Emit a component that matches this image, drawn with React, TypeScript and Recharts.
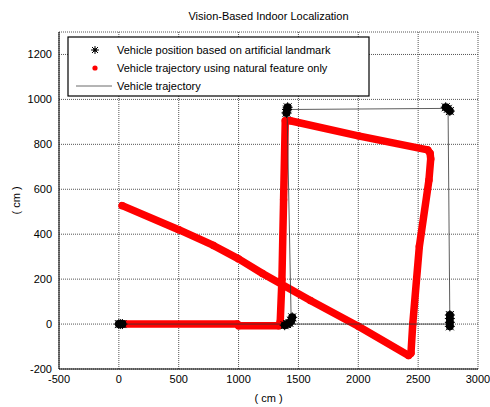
import React from 'react';
import { ScatterChart, Scatter, XAxis, YAxis, CartesianGrid } from 'recharts';

const xTicks = [-500, 0, 500, 1000, 1500, 2000, 2500, 3000];
const yTicks = [-200, 0, 200, 400, 600, 800, 1000, 1200];

const naturalFeaturePath = [
  { x: 20, y: 0 }, { x: 990, y: 0 }, { x: 1000, y: -8 }, { x: 1335, y: -8 },
  { x: 1348, y: 10 }, { x: 1362, y: 197 }, { x: 1376, y: 553 }, { x: 1390, y: 905 },
  { x: 1432, y: 905 }, { x: 2000, y: 838 }, { x: 2580, y: 775 }, { x: 2600, y: 760 },
  { x: 2605, y: 735 }, { x: 2590, y: 640 }, { x: 2510, y: 345 }, { x: 2455, y: 0 },
  { x: 2440, y: -130 }, { x: 2420, y: -140 }, { x: 2000, y: -10 }, { x: 1600, y: 105 },
  { x: 1200, y: 225 }, { x: 1000, y: 290 }, { x: 790, y: 350 }, { x: 500, y: 420 },
  { x: 28, y: 527 },
];

const vehicleTrajectory = [
  { x: 0, y: 0 }, { x: 1440, y: 0 }, { x: 1405, y: 955 }, { x: 2750, y: 960 },
  { x: 2765, y: 0 }, { x: 1450, y: 0 },
];

const landmarkPositions = [
  { x: 0, y: 0 }, { x: 15, y: 0 }, { x: 30, y: 0 },
  { x: 1385, y: -5 }, { x: 1405, y: 0 }, { x: 1425, y: 5 }, { x: 1440, y: 15 }, { x: 1448, y: 30 },
  { x: 1400, y: 940 }, { x: 1405, y: 955 }, { x: 1410, y: 965 },
  { x: 2730, y: 965 }, { x: 2748, y: 958 }, { x: 2765, y: 948 },
  { x: 2765, y: -10 }, { x: 2765, y: 8 }, { x: 2765, y: 25 }, { x: 2765, y: 40 },
];

const FONT = '"Liberation Sans", Arial, Helvetica, sans-serif';

const Star = ({ cx, cy, r = 4 }: { cx: number; cy: number; r?: number }) => (
  <g>
    <circle cx={cx} cy={cy} r={r} fill="#000" />
    <line x1={cx - r - 1} y1={cy} x2={cx + r + 1} y2={cy} stroke="#000" strokeWidth={1} />
    <line x1={cx} y1={cy - r - 1} x2={cx} y2={cy + r + 1} stroke="#000" strokeWidth={1} />
    <line x1={cx - r} y1={cy - r} x2={cx + r} y2={cy + r} stroke="#000" strokeWidth={1} />
    <line x1={cx - r} y1={cy + r} x2={cx + r} y2={cy - r} stroke="#000" strokeWidth={1} />
  </g>
);

const LegendBox = () => (
  <svg width={303} height={61} style={{ position: 'absolute', left: 67, top: 36, fontFamily: FONT }}>
    <rect x={1} y={1} width={301} height={59} fill="#fff" stroke="#000" strokeWidth={1.2} />
    <g>
      <line x1={24} y1={14} x2={32} y2={14} stroke="#000" />
      <line x1={28} y1={10} x2={28} y2={18} stroke="#000" />
      <line x1={25} y1={11} x2={31} y2={17} stroke="#000" />
      <line x1={25} y1={17} x2={31} y2={11} stroke="#000" />
      <circle cx={28} cy={14} r={1.8} fill="#000" />
    </g>
    <text x={50} y={18} fontSize={11} fill="#000">Vehicle position based on artificial landmark</text>
    <circle cx={28} cy={32} r={2.6} fill="#ff0000" />
    <text x={50} y={36} fontSize={11} fill="#000">Vehicle trajectory using natural feature only</text>
    <line x1={9} y1={50} x2={45} y2={50} stroke="#444" strokeWidth={0.8} />
    <text x={50} y={54} fontSize={11} fill="#000">Vehicle trajectory</text>
  </svg>
);

export default function App() {
  return (
    <div style={{ position: 'relative', width: 490, height: 407, background: '#fff', fontFamily: FONT }}>
      <style>{'body{margin:0}'}</style>
      <ScatterChart width={490} height={407} margin={{ top: 32, right: 12, bottom: 0, left: 0 }}>
        <CartesianGrid stroke="#555" strokeDasharray="1 1" strokeWidth={1} />
        <XAxis
          type="number"
          dataKey="x"
          domain={[-500, 3000]}
          ticks={xTicks}
          allowDataOverflow
          height={38}
          tickLine={false}
          tickSize={0}
          tickMargin={6}
          axisLine={{ stroke: '#000', strokeWidth: 1 }}
          tick={{ fill: '#000', fontSize: 11, fontFamily: FONT }}
          label={(props: any) => {
            const vb = props.viewBox || {};
            return (
              <text x={vb.x + vb.width / 2} y={vb.y + 33} textAnchor="middle" fontSize={11} fill="#000" fontFamily={FONT}>
                ( cm )
              </text>
            );
          }}
        />
        <YAxis
          type="number"
          dataKey="y"
          domain={[-200, 1300]}
          ticks={yTicks}
          allowDataOverflow
          width={59}
          tickLine={false}
          tickSize={0}
          tickMargin={7}
          axisLine={{ stroke: '#000', strokeWidth: 1 }}
          tick={{ fill: '#000', fontSize: 11, fontFamily: FONT }}
          label={(props: any) => {
            const vb = props.viewBox || {};
            const lx = vb.x + 20;
            const ly = vb.y + vb.height / 2;
            return (
              <text x={lx} y={ly} transform={`rotate(-90 ${lx} ${ly})`} textAnchor="middle" fontSize={11} fill="#000" fontFamily={FONT}>
                ( cm )
              </text>
            );
          }}
        />
        <Scatter
          data={naturalFeaturePath}
          isAnimationActive={false}
          line={{ stroke: '#ff0000', strokeWidth: 7.5, strokeLinejoin: 'round', strokeLinecap: 'round' } as any}
          shape={(p: any) => <circle cx={p.cx} cy={p.cy} r={3.7} fill="#ff0000" />}
        />
        <Scatter
          data={vehicleTrajectory}
          isAnimationActive={false}
          line={{ stroke: '#333', strokeWidth: 0.8 } as any}
          shape={() => <g />}
        />
        <Scatter
          data={landmarkPositions}
          isAnimationActive={false}
          shape={(p: any) => <Star cx={p.cx} cy={p.cy} />}
        />
      </ScatterChart>
      <div
        style={{
          position: 'absolute', left: 59, width: 419, top: 9, textAlign: 'center',
          fontSize: 11, color: '#000', fontFamily: FONT, lineHeight: '14px',
        }}
      >
        Vision-Based Indoor Localization
      </div>
      <LegendBox />
    </div>
  );
}
